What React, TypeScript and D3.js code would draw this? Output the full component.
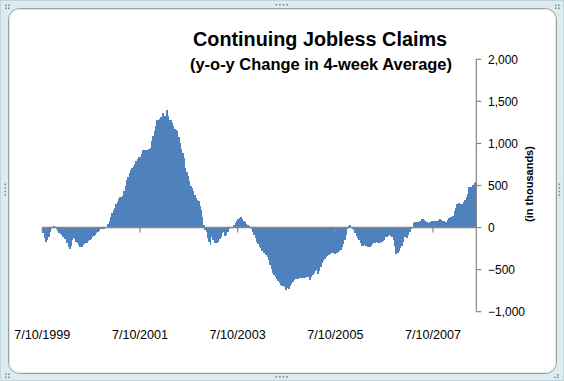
import React from "react";
import * as d3 from "d3";

const title = "Continuing Jobless Claims";
const subtitle = "(y-o-y Change in 4-week Average)";
const yAxisTitle = "(in thousands)";
const periodStart = "7/10/1999";
const periodEnd = "5/29/2008";
const xTickLabels = ["7/10/1999", "7/10/2001", "7/10/2003", "7/10/2005", "7/10/2007"];
const yTicks = [-1000, -500, 0, 500, 1000, 1500, 2000];

// y-o-y change, thousands, sampled roughly every 10 days
const claims1999to2003 = [
  -60, -127, -167, -147, -107, -48, -20, 0, 20, 4, -12, -36, -60, -79, -91, -107, -131, -139, -179, -226,
  -258, -218, -147, -127, -139, -167, -187, -210, -234, -226, -206, -195, -187, -179, -163, -147, -131, -115, -99, -83,
  -67, -48, -36, -20, -12, -8, -12, -4, 12, 44, 83, 131, 179, 210, 230, 278, 298, 337, 361, 361,
  377, 429, 496, 568, 600, 647, 687, 707, 726, 758, 786, 814, 838, 838, 877, 917, 925, 925, 925, 917,
  933, 945, 1024, 1092, 1143, 1203, 1282, 1282, 1290, 1314, 1362, 1274, 1330, 1401, 1330, 1282, 1274, 1243, 1203, 1171,
  1155, 1143, 1076, 1004, 933, 885, 826, 707, 655, 615, 548, 496, 468, 429, 389, 349, 330, 310, 258, 210,
  131, 32, -28, -48, -127, -167, -210, -107, -147, -179, -187, -179, -167, -139, -107, -67, -48, -99, -87, -48,
  -12, -4, -4, 12, 32, 60, 83, 107, 111, 131, 99, 83, 67, 44, 28, 20,
];
const claims2003to2008 = [
  -8, -20, -48, -87, -127, -167, -195, -226, -246, -274, -298, -306, -325, -345, -385, -445, -496, -544, -564, -584,
  -615, -631, -663, -683, -695, -695, -711, -742, -722, -734, -695, -671, -643, -623, -615, -607, -607, -603, -603, -600,
  -596, -600, -592, -584, -584, -623, -584, -564, -536, -512, -504, -552, -512, -472, -425, -397, -377, -353, -337, -330,
  -314, -306, -306, -298, -314, -306, -286, -274, -266, -234, -195, -147, -87, -20, 24, 32, 12, -12, -28, -60,
  -99, -127, -147, -179, -218, -218, -210, -218, -218, -226, -234, -218, -195, -187, -179, -171, -179, -187, -179, -171,
  -155, -147, -115, -107, -99, -91, -99, -115, -147, -218, -314, -298, -274, -246, -218, -167, -107, -115, -127, -87,
  -48, -20, 12, 52, 71, 71, 67, 71, 83, 99, 103, 91, 83, 71, 60, 67, 71, 75, 75, 75,
  79, 75, 91, 99, 91, 83, 75, 67, 71, 91, 111, 123, 123, 139, 191, 230, 282, 290, 270, 282,
  282, 298, 322, 369, 401, 480, 488, 488, 508, 528, 540,
];
const claims = [...claims1999to2003, ...claims2003to2008];

const W = 564;
const H = 381;
const plot = { left: 42.3, right: 476.3, top: 59.3, bottom: 311.7 };

function parseMDY(s: string) {
  const [m, d, y] = s.split("/").map(Number);
  return new Date(y, m - 1, d);
}

const axisColor = "#868686";
const barColor = "#4f81bd";
const font = "'Liberation Sans', Arial, sans-serif";

function Dots({ pts }: { pts: [number, number][] }) {
  return (
    <g fill="#7d8c92">
      {pts.map(([x, y], i) => (
        <rect key={i} x={x} y={y} width={1.6} height={1.6} />
      ))}
    </g>
  );
}

export default function App() {
  const x = d3
    .scaleBand<number>()
    .domain(d3.range(claims.length))
    .range([plot.left, plot.right])
    .paddingInner(0)
    .paddingOuter(0);
  const t = d3
    .scaleTime()
    .domain([parseMDY(periodStart), parseMDY(periodEnd)])
    .range([plot.left, plot.right]);
  const y = d3.scaleLinear().domain([-1000, 2000]).range([plot.bottom, plot.top]);
  const y0 = y(0);
  const fmt = d3.format(",");
  const bw = x.bandwidth();

  const p = d3.path();
  claims.forEach((v, i) => {
    const x0 = x(i)!;
    const yv = y(v);
    p.rect(x0, Math.min(yv, y0), bw + 0.6, Math.abs(yv - y0));
  });

  const hDots = (cx: number, cy: number): [number, number][] =>
    d3.range(4).map((i) => [cx - 6.5 + i * 3.6, cy] as [number, number]);
  const vDots = (cx: number, cy: number): [number, number][] =>
    d3.range(4).map((i) => [cx, cy - 6.5 + i * 3.6] as [number, number]);

  return (
    <svg
      width={W}
      height={H}
      viewBox={`0 0 ${W} ${H}`}
      style={{ position: "absolute", left: 0, top: 0, display: "block" }}
    >
      <rect x={0} y={0} width={W} height={H} fill="#dcedf2" />
      <rect x={0.5} y={0.5} width={W - 1} height={H - 1} fill="none" stroke="#c3d6dc" />
      <rect x={8.5} y={8.5} width={548} height={365} rx={11} ry={11} fill="#ffffff" stroke="#9c9c9c" />
      <rect x={9.5} y={9.5} width={546} height={363} rx={10} ry={10} fill="none" stroke="#e6e6e6" />

      <Dots pts={[[5, 4.5], [8, 4.5], [5, 7.5], [8, 7.5]]} />
      <Dots pts={[[555, 4.5], [558, 4.5], [555, 7.5], [558, 7.5]]} />
      <Dots pts={[[5, 373.5], [8, 373.5], [5, 376.5], [8, 376.5]]} />
      <Dots pts={[[557, 374], [554, 376.5], [557, 376.5]]} />
      <Dots pts={hDots(282, 4)} />
      <Dots pts={hDots(282, 376)} />
      <Dots pts={vDots(558.5, 190)} />
      <Dots pts={vDots(4.5, 190)} />

      <path d={p.toString()} fill={barColor} shapeRendering="crispEdges" />

      {/* x axis at zero */}
      <line x1={plot.left} x2={plot.right} y1={y0} y2={y0} stroke={axisColor} strokeWidth={1.5} />
      {xTickLabels.map((lab) => {
        const xx = t(parseMDY(lab));
        return (
          <g key={lab}>
            <line x1={xx} x2={xx} y1={y0} y2={y0 + 5} stroke={axisColor} strokeWidth={1.2} />
            <text
              x={xx}
              y={339.2}
              textAnchor="middle"
              fontFamily={font}
              fontSize={12.6}
              fill="#000"
            >
              {lab}
            </text>
          </g>
        );
      })}

      {/* y axis on right */}
      <line x1={plot.right} x2={plot.right} y1={plot.top} y2={plot.bottom} stroke={axisColor} strokeWidth={1.2} />
      {yTicks.map((v) => (
        <g key={v}>
          <line x1={plot.right} x2={plot.right + 5} y1={y(v)} y2={y(v)} stroke={axisColor} strokeWidth={1.2} />
          <text x={488} y={y(v)} dy="0.36em" fontFamily={font} fontSize={12} fill="#000">
            {fmt(v)}
          </text>
        </g>
      ))}
      <text
        transform={`translate(532.5, 184) rotate(-90)`}
        textAnchor="middle"
        fontFamily={font}
        fontWeight="bold"
        fontSize={11}
        fill="#000"
      >
        {yAxisTitle}
      </text>

      <text
        x={320}
        y={46}
        textAnchor="middle"
        fontFamily={font}
        fontWeight="bold"
        fontSize={20}
        textLength={254}
        lengthAdjust="spacingAndGlyphs"
        fill="#000"
      >
        {title}
      </text>
      <text
        x={321}
        y={70}
        textAnchor="middle"
        fontFamily={font}
        fontWeight="bold"
        fontSize={16}
        textLength={262}
        lengthAdjust="spacingAndGlyphs"
        fill="#000"
      >
        {subtitle}
      </text>
    </svg>
  );
}
